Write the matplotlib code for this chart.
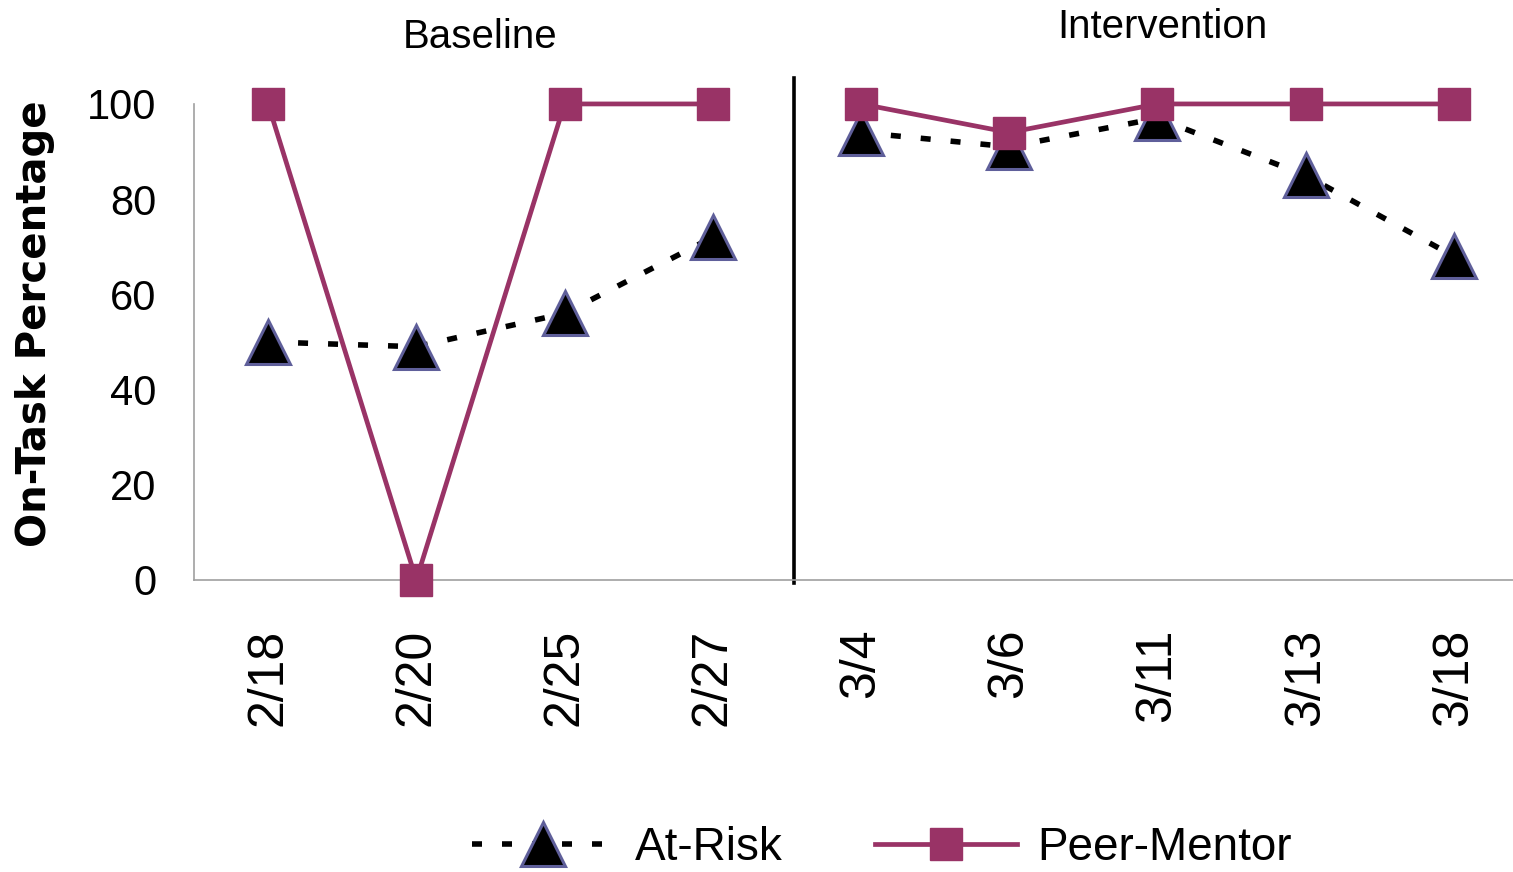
import numpy as np
import matplotlib
matplotlib.use("Agg")
import matplotlib.pyplot as plt
from matplotlib.lines import Line2D

# session dates and on-task percentages
dates = ["2/18", "2/20", "2/25", "2/27", "3/4", "3/6", "3/11", "3/13", "3/18"]
at_risk = [50, 49, 56, 72, 94, 91, 97, 85, 68]
peer_mentor = [100, 0, 100, 100, 100, 94, 100, 100, 100]
n_baseline = 4  # first 4 sessions are baseline
phase_change = 3.55

PLUM = "#993366"
TRI_EDGE = "#5F5F9A"
narrow = ["Liberation Sans Narrow", "Liberation Sans", "DejaVu Sans"]

fig = plt.figure(figsize=(15.13, 8.72), dpi=100)
ax = fig.add_axes([0.1282, 0.3349, 0.8817, 0.5459])

x = np.arange(len(dates))
dash_style = dict(color="black", lw=4, dashes=(1.8, 3.6), marker="^", markersize=32,
                  markerfacecolor="black", markeredgecolor=TRI_EDGE, markeredgewidth=2.2,
                  clip_on=False, zorder=3)
solid_style = dict(color=PLUM, lw=3.4, marker="s", markersize=23,
                   markerfacecolor=PLUM, markeredgecolor=PLUM, clip_on=False, zorder=4)

# baseline and intervention are drawn as separate segments
for sl in (slice(0, n_baseline), slice(n_baseline, len(dates))):
    ax.plot(x[sl], at_risk[sl], **dash_style)
    ax.plot(x[sl], peer_mentor[sl], **solid_style)

ax.plot([phase_change, phase_change], [-0.6, 105.5], color="black", lw=2.6,
        clip_on=False, zorder=2)

ax.set_xlim(-0.5, len(dates) - 0.5)
ax.set_ylim(0, 100)
ax.set_yticks(np.arange(0, 101, 20))
ax.set_xticks(x)
ax.set_xticklabels(dates, rotation=90, fontsize=36, family="Liberation Sans")
for lab in ax.get_yticklabels():
    lab.set_fontsize(30)
    lab.set_family("Liberation Sans")
ax.tick_params(axis="y", length=0, pad=27)
ax.tick_params(axis="x", length=0, pad=35)

for side in ("top", "right"):
    ax.spines[side].set_visible(False)
for side in ("left", "bottom"):
    ax.spines[side].set_color("#A0A0A0")
    ax.spines[side].set_linewidth(1.2)

ax.set_ylabel("On-Task Percentage", fontsize=29, fontweight="bold",
              family="DejaVu Sans")
ax.yaxis.set_label_coords(-0.104, 0.538)

fig.text(480 / 1513, 1 - 37 / 872, "Baseline", fontsize=29, family="Liberation Sans",
         ha="center", va="center")
fig.text(1162 / 1513, 1 - 27 / 872, "Intervention", fontsize=29, family="Liberation Sans",
         ha="center", va="center")

handles = [
    Line2D([], [], **{k: v for k, v in dash_style.items() if k not in ("clip_on", "zorder")}),
    Line2D([], [], **{k: v for k, v in solid_style.items() if k not in ("clip_on", "zorder")}),
]
fig.legend(handles, ["At-Risk", "Peer-Mentor"], loc="center",
           bbox_to_anchor=(882 / 1513, 1 - 848 / 872), ncol=2, frameon=False,
           handlelength=3.1, handletextpad=0.45, columnspacing=2.0,
           prop={"family": narrow, "size": 33})

fig.savefig("out.png", dpi=100)
